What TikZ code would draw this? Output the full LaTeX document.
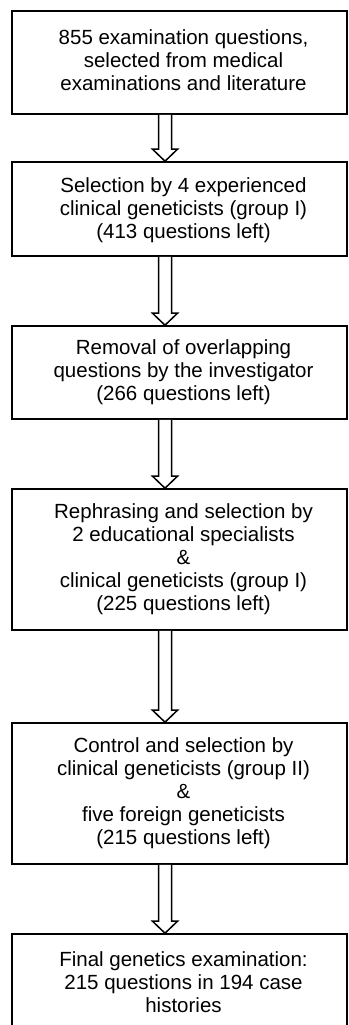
\documentclass[tikz,border=0pt]{standalone}
\usepackage{fontspec}
\setmainfont{Liberation Sans}
\usetikzlibrary{calc}
\tikzset{
  stepbox/.style={draw=black, line width=1.6pt, minimum width=335pt, inner sep=0pt},
  steptext/.style={align=center, inner sep=0pt, font=\fontsize{20.5pt}{23pt}\selectfont},
  blk/.style={draw=black, line width=1.5pt, line join=miter, fill=white}
}
\newcommand{\blockarrow}[2]{%
  \draw[blk] ($(#1)+(-6.5,0)$) -- ($(#2)+(-6.5,-12)$) -- ($(#2)+(-12.5,-12)$) -- (#2)
    -- ($(#2)+(12.5,-12)$) -- ($(#2)+(6.5,-12)$) -- ($(#1)+(6.5,0)$);}
\begin{document}
\begin{tikzpicture}[x=1pt,y=-1pt]
\useasboundingbox (0,0) rectangle (348,1025);
\node[stepbox, minimum height=103pt] (b1) at (179.5,62.5) {};
\node[stepbox, minimum height=94pt] (b2) at (179.5,209) {};
\node[stepbox, minimum height=93pt] (b3) at (179.5,372.5) {};
\node[stepbox, minimum height=141pt] (b4) at (179.5,559.5) {};
\node[stepbox, minimum height=141pt] (b5) at (179.5,793.5) {};
\node[stepbox, minimum height=101pt] (b6) at (179.5,984.5) {};
\node[steptext] (t1) at ([xshift=4pt,yshift=2pt]b1.center) {855 examination questions,\\selected from medical\\examinations and literature};
\node[steptext] (t2) at ([xshift=4pt,yshift=-1pt]b2.center) {Selection by 4 experienced\\clinical geneticists (group I)\\(413 questions left)};
\node[steptext] (t3) at ([xshift=4pt]b3.center) {Removal of overlapping\\questions by the investigator\\(266 questions left)};
\node[steptext] (t4) at ([xshift=4pt]b4.center) {Rephrasing and selection by\\2 educational specialists\\\&\\clinical geneticists (group I)\\(225 questions left)};
\node[steptext] (t5) at ([xshift=4pt]b5.center) {Control and selection by\\clinical geneticists (group II)\\\&\\five foreign geneticists\\(215 questions left)};
\node[steptext, anchor=north] (t6) at ([xshift=4pt,yshift=-18pt]b6.north) {Final genetics examination:\\215 questions in 194 case\\histories};
\foreach \i/\j in {1/2,2/3,3/4,4/5,5/6}{
  \coordinate (s\i) at ($(b\i.south)+(-14.5,0)$);
  \coordinate (e\i) at ($(b\j.north)+(-14.5,0)$);
  \blockarrow{s\i}{e\i}
}
\end{tikzpicture}
\end{document}
